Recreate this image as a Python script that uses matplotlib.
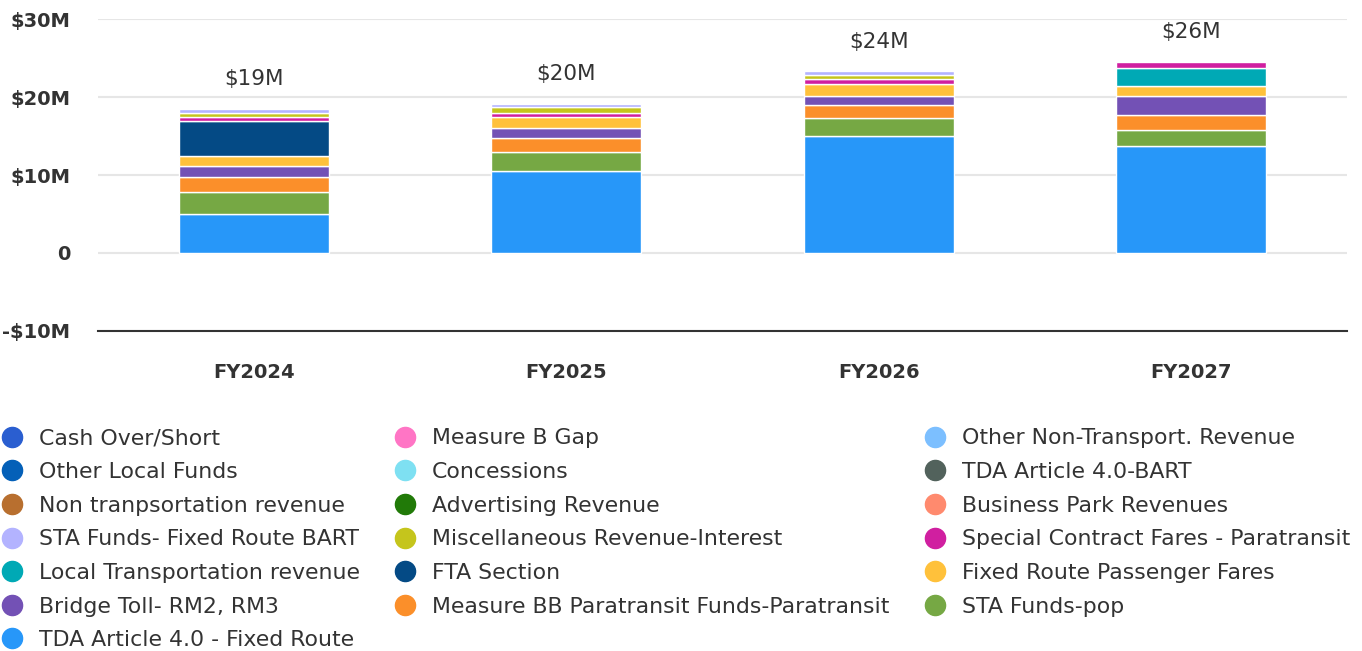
import numpy as np
import matplotlib
matplotlib.use('Agg')
import matplotlib.pyplot as plt
from matplotlib.lines import Line2D

plt.rcParams['font.family'] = ['DejaVu Sans']

# fiscal years on the x axis
years = ['FY2024', 'FY2025', 'FY2026', 'FY2027']
total_labels = ['$19M', '$20M', '$24M', '$26M']

# series in stacking order (bottom -> top), values in $M
series = [
    'TDA Article 4.0 - Fixed Route',
    'STA Funds-pop',
    'Measure BB Paratransit Funds-Paratransit',
    'Bridge Toll- RM2, RM3',
    'Fixed Route Passenger Fares',
    'FTA Section',
    'Local Transportation revenue',
    'Special Contract Fares - Paratransit',
    'Miscellaneous Revenue-Interest',
    'STA Funds- Fixed Route BART',
    'Business Park Revenues',
    'Advertising Revenue',
    'Non tranpsortation revenue',
    'TDA Article 4.0-BART',
    'Concessions',
    'Other Local Funds',
    'Other Non-Transport. Revenue',
    'Measure B Gap',
    'Cash Over/Short',
]
colors = [
    '#2797f9', '#76a844', '#fb8f2a', '#7351b5', '#ffc13b', '#044a85',
    '#00a9b5', '#d01fa0', '#c5c51c', '#b3b3ff', '#ff8a6e', '#217a08',
    '#b86f2f', '#52625c', '#7ee0f2', '#0460b8', '#7cbfff', '#ff75c5',
    '#2a5ed0',
]

tda_fixed = [5.0, 10.55, 15.05, 13.7]
sta_pop = [2.85, 2.35, 2.25, 2.1]
measure_bb = [1.95, 1.9, 1.7, 1.95]
bridge_toll = [1.4, 1.2, 1.2, 2.45]
fixed_fares = [1.2, 1.5, 1.5, 1.2]
fta_section = [4.6, 0, 0, 0]
local_transp = [0, 0, 0, 2.4]
special_contract = [0.5, 0.5, 0.65, 0.7]
misc_interest = [0.5, 0.7, 0.45, 0]
sta_bart = [0.5, 0.45, 0.5, 0]
business_park = [0, 0, 0, 0]
advertising = [0, 0, 0, 0]
non_transp = [0, 0, 0, 0]
tda_bart = [0, 0, 0, 0]
concessions = [0, 0, 0, 0]
other_local = [0, 0, 0, 0]
other_non_transp = [0, 0, 0, 0]
measure_b_gap = [0, 0, 0, 0]
cash_over_short = [0, 0, 0, 0]

values = [tda_fixed, sta_pop, measure_bb, bridge_toll, fixed_fares, fta_section,
          local_transp, special_contract, misc_interest, sta_bart, business_park,
          advertising, non_transp, tda_bart, concessions, other_local,
          other_non_transp, measure_b_gap, cash_over_short]

fig = plt.figure(figsize=(13.62, 6.51), dpi=100)
ax = fig.add_axes([98 / 1362, 1 - 330.7 / 651, 1249 / 1362, 311.4 / 651])

x = np.arange(len(years))
bottom = np.zeros(len(years))
for name, vals, col in zip(series, values, colors):
    vals = np.array(vals, dtype=float)
    bars = ax.bar(x, vals, width=0.48, bottom=bottom, color=col,
                  edgecolor='white', linewidth=1.0, zorder=3)
    for b, v in zip(bars, vals):
        if v == 0:
            b.set_linewidth(0)
    bottom += vals

# total labels above each bar
for xi, top, lab in zip(x, bottom, total_labels):
    ax.annotate(lab, (xi, top), xytext=(0, 21.5), textcoords='offset points',
                ha='center', va='center', fontsize=15.5, color='#333333')

ax.set_xlim(-0.5, 3.5)
ax.set_ylim(-10, 30)
ax.set_yticks([-10, 0, 10, 20, 30])
ax.set_yticklabels(['-$10M', '0', '$10M', '$20M', '$30M'])
ax.set_xticks(x)
ax.set_xticklabels(years)
ax.tick_params(axis='y', length=0, pad=20, labelsize=14, labelcolor='#333333')
ax.tick_params(axis='x', length=0, pad=23.5, labelsize=14, labelcolor='#333333')
for lab in ax.get_xticklabels() + ax.get_yticklabels():
    lab.set_fontweight('bold')

ax.grid(axis='y', color='#e6e6e6', linewidth=1.5, zorder=0)
for s in ['top', 'right', 'left']:
    ax.spines[s].set_visible(False)
ax.spines['bottom'].set_color('#333333')
ax.spines['bottom'].set_linewidth(1.5)
ax.spines['bottom'].set_zorder(4)

# legend: reading order is reversed stack order, laid out in 3 columns
rev = list(range(len(series)))[::-1]
ncol = 3
nrow = int(np.ceil(len(rev) / ncol))
col_x = [1 / 1362, 394 / 1362, 924 / 1362]
for c in range(ncol):
    idx = [rev[r * ncol + c] for r in range(nrow) if r * ncol + c < len(rev)]
    handles = [Line2D([], [], marker='o', linestyle='none', markersize=14.5,
                      markerfacecolor=colors[i], markeredgecolor=colors[i])
               for i in idx]
    fig.legend(handles, [series[i] for i in idx], loc='upper left',
               bbox_to_anchor=(col_x[c], 1 - 428.5 / 651), frameon=False,
               fontsize=15.8, labelcolor='#333333', handlelength=1.0,
               handletextpad=0.72, labelspacing=0.62, borderpad=0,
               borderaxespad=0)

fig.savefig('out.png', dpi=100)
